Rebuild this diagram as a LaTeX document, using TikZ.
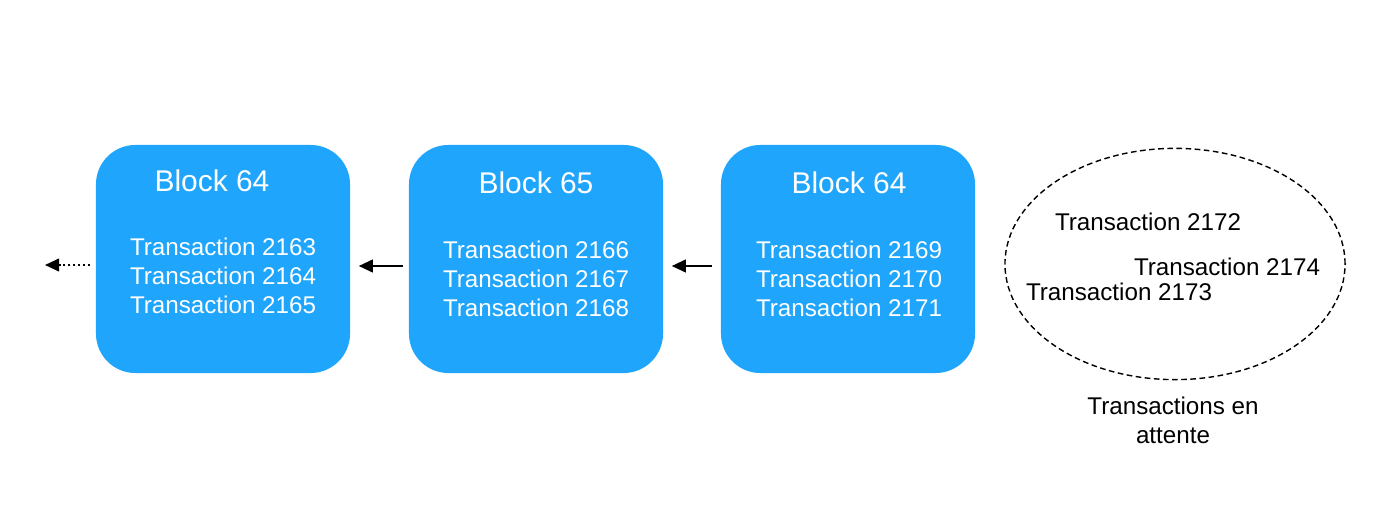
\documentclass[tikz,border=0pt]{standalone}
\usepackage{fontspec}
\setmainfont{Liberation Sans}
\usepackage{tikz}
\usetikzlibrary{positioning,calc,arrows.meta,shapes.geometric}
\definecolor{blockbg}{HTML}{1FA5FC}

\begin{document}
\begin{tikzpicture}[x=0.025cm, y=-0.025cm,
    block/.style={draw=none, fill=blockbg, rounded corners=28pt, minimum width=6.35cm, minimum height=5.7cm},
    title/.style={text=white, font=\fontsize{21.3}{25}\selectfont},
    txs/.style={text=white, align=center, font=\fontsize{17.2}{20.8}\selectfont},
    pend/.style={font=\fontsize{17.2}{20.8}\selectfont},
    link/.style={line width=1.5pt, -{Triangle[length=10pt, width=9pt]}}]
  \useasboundingbox (0, 0) rectangle (1380, 512);

  % Block 64 (left)
  \node[block] (b1) at (223, 259) {};
  \node[title] (t1) at (212, 181) {Block 64};
  \node[txs] (x1) at (223, 276) {Transaction 2163\\Transaction 2164\\Transaction 2165};

  % Block 65
  \node[block] (b2) at (536, 259) {};
  \node[title] (t2) at (536, 183) {Block 65};
  \node[txs] (x2) at (536, 279) {Transaction 2166\\Transaction 2167\\Transaction 2168};

  % Block 64 (right)
  \node[block] (b3) at (848, 259) {};
  \node[title] (t3) at (849, 183) {Block 64};
  \node[txs] (x3) at (849, 279) {Transaction 2169\\Transaction 2170\\Transaction 2171};

  % Links between blocks
  \coordinate (prev) at (45, 265);
  \draw[link, dotted, shorten <=4pt] (b1.west |- prev) -- (prev);
  \draw[link, shorten <=4pt, shorten >=6pt] ($(b2.west)+(0,7)$) -- ($(b1.east)+(0,7)$);
  \draw[link, shorten <=6pt, shorten >=6pt] ($(b3.west)+(0,7)$) -- ($(b2.east)+(0,7)$);

  % Pending transactions
  \node[ellipse, draw, line width=1pt, dash pattern=on 4pt off 2.5pt, minimum width=8.5cm, minimum height=5.78cm] (pool) at (1175, 264) {};
  \node[pend] (p1) at (1148, 222) {Transaction 2172};
  \node[pend] (p2) at (1227, 267) {Transaction 2174};
  \node[pend] (p3) at (1119, 292) {Transaction 2173};
  \node[pend, align=center] (cap) at (1173, 420) {Transactions en\\attente};
\end{tikzpicture}
\end{document}
